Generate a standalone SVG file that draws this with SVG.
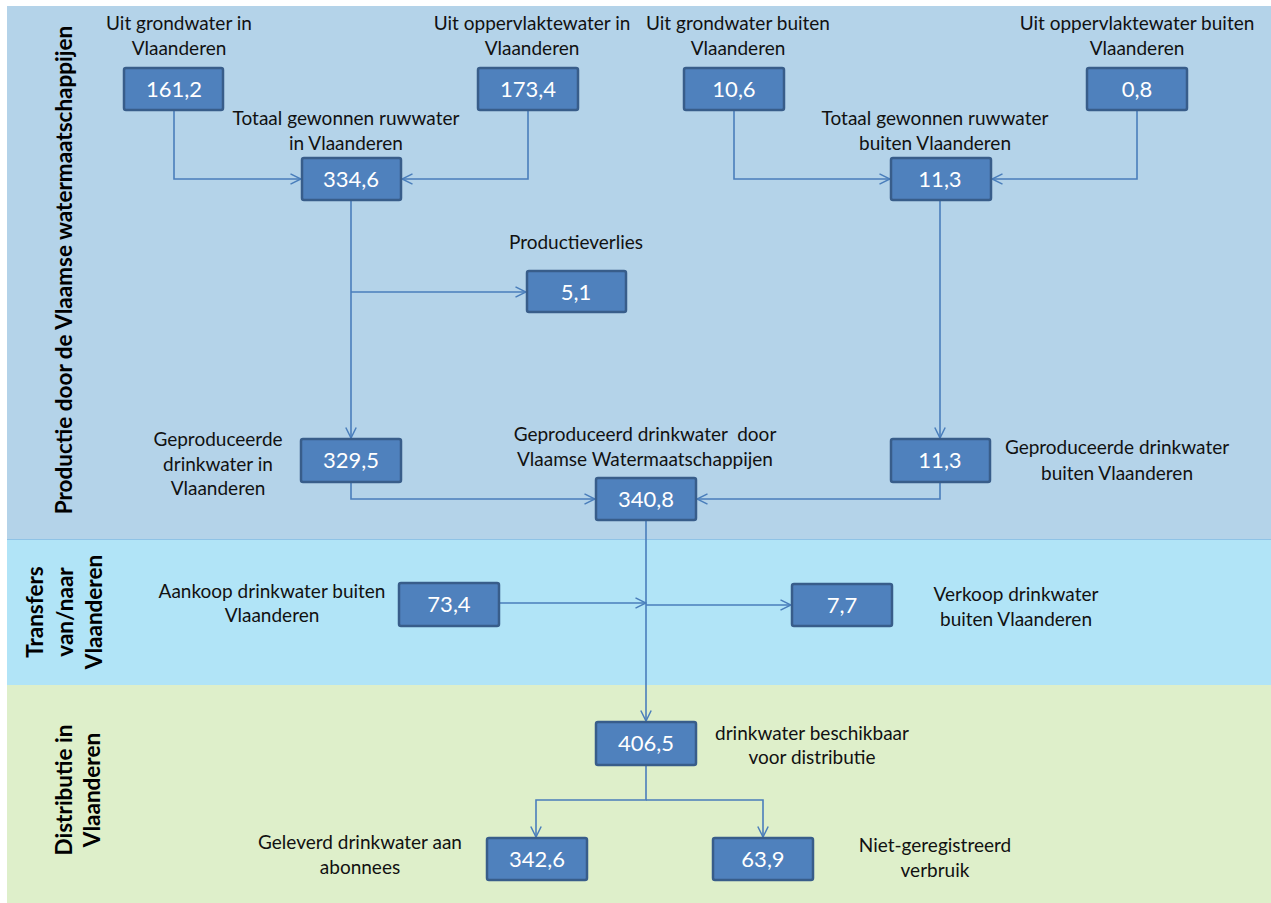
<svg xmlns="http://www.w3.org/2000/svg" width="1271" height="903" viewBox="0 0 1271 903">
<style>
.lbl{font-family:Lato,"Liberation Sans",sans-serif;font-size:19px;fill:#111;text-anchor:middle}
.val{font-family:Lato,"Liberation Sans",sans-serif;font-size:22px;fill:#fff;text-anchor:middle}
.side{font-family:Lato,"Liberation Sans",sans-serif;font-size:22.5px;font-weight:bold;fill:#000;text-anchor:middle}
.box{fill:#4f81bd;stroke:#385d8a;stroke-width:2.5}
.con{fill:none;stroke:#4a7ebb;stroke-width:1.6}
</style>
<defs>
<marker id="ah" viewBox="0 0 12 12" refX="11" refY="6" markerWidth="12" markerHeight="12" markerUnits="userSpaceOnUse" orient="auto">
<path d="M0.5,0.8 L11,6 L0.5,11.2" fill="none" stroke="#4a7ebb" stroke-width="1.5"/>
</marker>
</defs>
<rect width="1271" height="903" fill="#fff"/>
<g id="bands">
<rect x="7" y="6" width="1264" height="533" fill="#b4d3e9"/>
<rect x="7" y="539" width="1264" height="146" fill="#b1e4f7"/>
<rect x="7" y="685" width="1264" height="218" fill="#deefca"/>
<line x1="7" y1="539.5" x2="1271" y2="539.5" stroke="#8fc3e6" stroke-width="1.2"/>
<text class="side" transform="translate(72,270) rotate(-90)">Productie door de Vlaamse watermaatschappijen</text>
<text class="side" transform="translate(43,612) rotate(-90)"><tspan x="0" y="0">Transfers</tspan><tspan x="0" y="29.5">van/naar</tspan><tspan x="0" y="59">Vlaanderen</tspan></text>
<text class="side" transform="translate(72,790) rotate(-90)"><tspan x="0" y="0">Distributie in</tspan><tspan x="0" y="28">Vlaanderen</tspan></text>
</g>
<g id="connectors">
<path class="con" d="M174,110 V179 H301" marker-end="url(#ah)"/>
<path class="con" d="M528,110 V179 H402" marker-end="url(#ah)"/>
<path class="con" d="M734,110 V179 H890" marker-end="url(#ah)"/>
<path class="con" d="M1137,110 V179 H992" marker-end="url(#ah)"/>
<path class="con" d="M351,200 V438" marker-end="url(#ah)"/>
<path class="con" d="M351,292 H526" marker-end="url(#ah)"/>
<path class="con" d="M940,200 V438" marker-end="url(#ah)"/>
<path class="con" d="M351,482 V499 H595" marker-end="url(#ah)"/>
<path class="con" d="M940,482 V499 H697" marker-end="url(#ah)"/>
<path class="con" d="M646,520 V721" marker-end="url(#ah)"/>
<path class="con" d="M499,603 H646" marker-end="url(#ah)"/>
<path class="con" d="M646,605 H791" marker-end="url(#ah)"/>
<path class="con" d="M646,765 V800 H536 V837" marker-end="url(#ah)"/>
<path class="con" d="M646,800 H763 V837" marker-end="url(#ah)"/>
</g>
<g id="n-grond-vl">
<rect class="box" x="124" y="68" width="99" height="42" rx="2"/>
<text class="val" x="174" y="97">161,2</text>
<text class="lbl" x="179" y="30"><tspan x="179">Uit grondwater in</tspan><tspan x="179" dy="25">Vlaanderen</tspan></text>
</g>
<g id="n-opp-vl">
<rect class="box" x="478" y="68" width="100" height="42" rx="2"/>
<text class="val" x="528" y="97">173,4</text>
<text class="lbl" x="532" y="30"><tspan x="532">Uit oppervlaktewater in</tspan><tspan x="532" dy="25">Vlaanderen</tspan></text>
</g>
<g id="n-grond-buiten">
<rect class="box" x="684" y="68" width="100" height="42" rx="2"/>
<text class="val" x="734" y="97">10,6</text>
<text class="lbl" x="738" y="30"><tspan x="738">Uit grondwater buiten</tspan><tspan x="738" dy="25">Vlaanderen</tspan></text>
</g>
<g id="n-opp-buiten">
<rect class="box" x="1087" y="68" width="100" height="42" rx="2"/>
<text class="val" x="1137" y="97">0,8</text>
<text class="lbl" x="1137" y="30"><tspan x="1137">Uit oppervlaktewater buiten</tspan><tspan x="1137" dy="25">Vlaanderen</tspan></text>
</g>
<g id="n-totaal-vl">
<rect class="box" x="302" y="158" width="99" height="42" rx="2"/>
<text class="val" x="351" y="187">334,6</text>
<text class="lbl" x="346" y="125"><tspan x="346">Totaal gewonnen ruwwater</tspan><tspan x="346" dy="25">in Vlaanderen</tspan></text>
</g>
<g id="n-totaal-buiten">
<rect class="box" x="891" y="158" width="100" height="42" rx="2"/>
<text class="val" x="940" y="187">11,3</text>
<text class="lbl" x="935" y="125"><tspan x="935">Totaal gewonnen ruwwater</tspan><tspan x="935" dy="25">buiten Vlaanderen</tspan></text>
</g>
<g id="n-verlies">
<rect class="box" x="527" y="271" width="99" height="41" rx="2"/>
<text class="val" x="576" y="300">5,1</text>
<text class="lbl" x="576" y="249">Productieverlies</text>
</g>
<g id="n-prod-vl">
<rect class="box" x="301" y="439" width="100" height="43" rx="2"/>
<text class="val" x="351" y="468">329,5</text>
<text class="lbl" x="218" y="446"><tspan x="218">Geproduceerde</tspan><tspan x="218" dy="25">drinkwater in</tspan><tspan x="218" dy="24">Vlaanderen</tspan></text>
</g>
<g id="n-prod-totaal">
<rect class="box" x="596" y="478" width="100" height="42" rx="2"/>
<text class="val" x="646" y="507">340,8</text>
<text class="lbl" x="645" y="441"><tspan x="645">Geproduceerd drinkwater&#160; door</tspan><tspan x="645" dy="25">Vlaamse Watermaatschappijen</tspan></text>
</g>
<g id="n-prod-buiten">
<rect class="box" x="891" y="439" width="99" height="43" rx="2"/>
<text class="val" x="940" y="468">11,3</text>
<text class="lbl" x="1117" y="454"><tspan x="1117">Geproduceerde drinkwater</tspan><tspan x="1117" dy="26">buiten Vlaanderen</tspan></text>
</g>
<g id="n-aankoop">
<rect class="box" x="399" y="583" width="100" height="43" rx="2"/>
<text class="val" x="449" y="612">73,4</text>
<text class="lbl" x="272" y="598"><tspan x="272">Aankoop drinkwater buiten</tspan><tspan x="272" dy="24">Vlaanderen</tspan></text>
</g>
<g id="n-verkoop">
<rect class="box" x="792" y="584" width="100" height="42" rx="2"/>
<text class="val" x="842" y="613">7,7</text>
<text class="lbl" x="1016" y="601"><tspan x="1016">Verkoop drinkwater</tspan><tspan x="1016" dy="25">buiten Vlaanderen</tspan></text>
</g>
<g id="n-beschikbaar">
<rect class="box" x="596" y="722" width="100" height="43" rx="2"/>
<text class="val" x="646" y="751">406,5</text>
<text class="lbl" x="812" y="740"><tspan x="812">drinkwater beschikbaar</tspan><tspan x="812" dy="24">voor distributie</tspan></text>
</g>
<g id="n-geleverd">
<rect class="box" x="487" y="838" width="100" height="42" rx="2"/>
<text class="val" x="537" y="867">342,6</text>
<text class="lbl" x="360" y="849"><tspan x="360">Geleverd drinkwater aan</tspan><tspan x="360" dy="25">abonnees</tspan></text>
</g>
<g id="n-niet">
<rect class="box" x="713" y="838" width="100" height="42" rx="2"/>
<text class="val" x="763" y="867">63,9</text>
<text class="lbl" x="935" y="852"><tspan x="935">Niet-geregistreerd</tspan><tspan x="935" dy="25">verbruik</tspan></text>
</g>
</svg>
